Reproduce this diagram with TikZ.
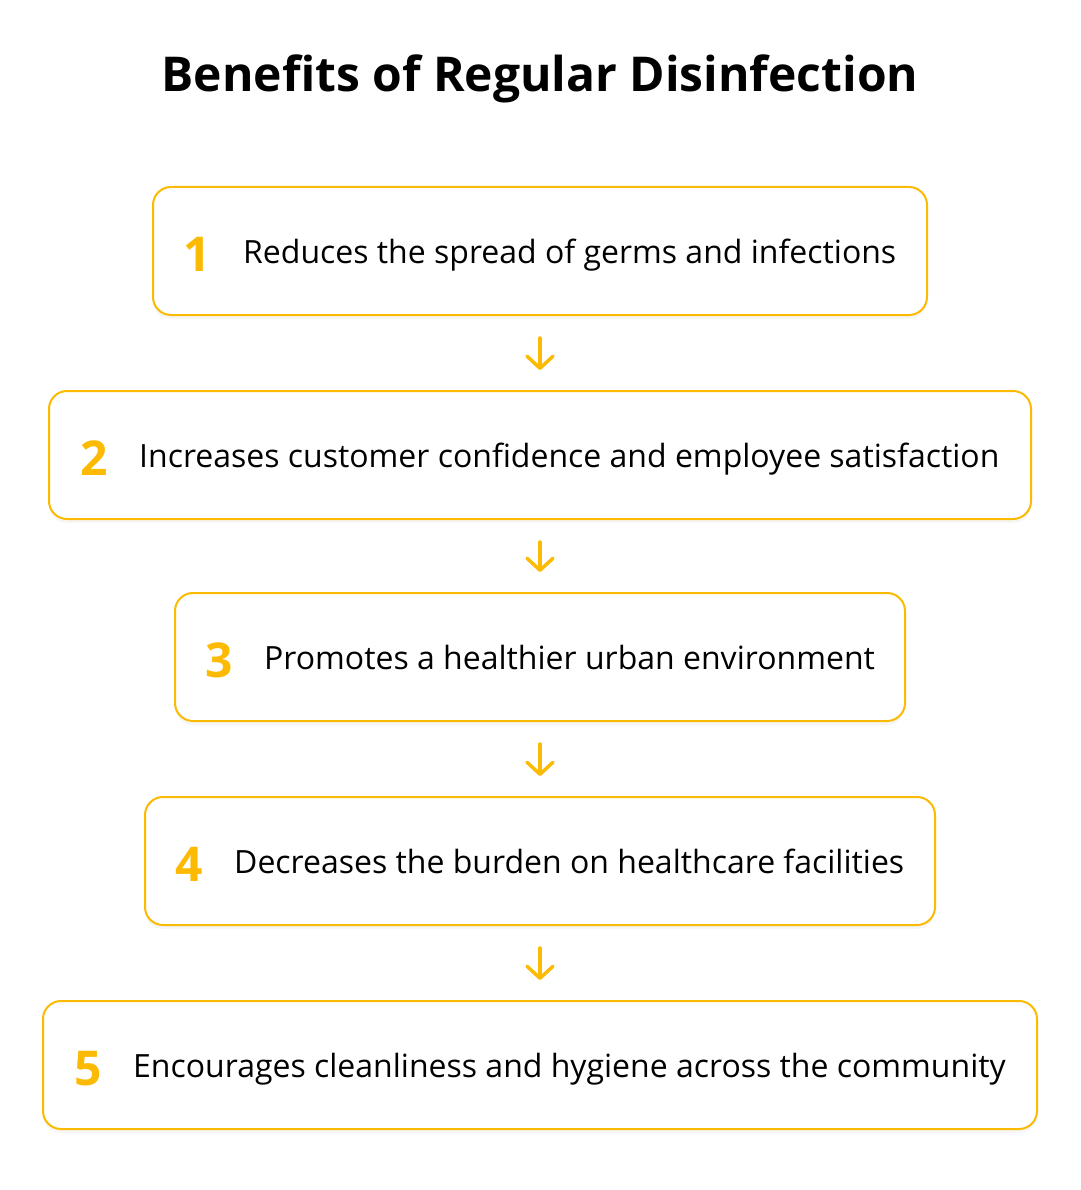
\documentclass[tikz,border=0pt]{standalone}
\usepackage{fontspec}
\setmainfont{Open Sans}
\usetikzlibrary{arrows.meta,shadows}
\definecolor{gold}{HTML}{FCBA03}
\tikzset{
  x=1pt,y=1pt,
  stepbox/.style={draw=gold, line width=2pt, rounded corners=18pt, fill=white,
    drop shadow={opacity=0.07, shadow xshift=0pt, shadow yshift=-4pt}},
  numlabel/.style={text=gold, font=\fontsize{48}{56}\selectfont\bfseries, anchor=base, inner sep=0pt},
  textlabel/.style={text=black, font=\fontsize{32}{38}\selectfont, anchor=base west, inner sep=0pt},
  flow/.style={draw=gold, line width=3.5pt, line cap=round,
    -{Straight Barb[length=12pt,width=26pt,line cap=round,line join=round]},
    shorten <=23pt, shorten >=21pt},
}
\begin{document}
\begin{tikzpicture}
\useasboundingbox (0,0) rectangle (1080,-1190);
\node[font=\fontsize{48}{56}\selectfont\bfseries, anchor=base, inner sep=0pt] (title) at (540,-92) {Benefits of Regular Disinfection};

% boxes: left, right, top, bottom
\path[stepbox] (153,-187) rectangle (927,-315);
\coordinate (b1n) at (540,-187); \coordinate (b1s) at (540,-315);
\path[stepbox] (49,-391) rectangle (1031,-519);
\coordinate (b2n) at (540,-391); \coordinate (b2s) at (540,-519);
\path[stepbox] (175,-593) rectangle (905,-721);
\coordinate (b3n) at (540,-593); \coordinate (b3s) at (540,-721);
\path[stepbox] (145,-797) rectangle (935,-925);
\coordinate (b4n) at (540,-797); \coordinate (b4s) at (540,-925);
\path[stepbox] (43,-1001) rectangle (1037,-1129);
\coordinate (b5n) at (540,-1001); \coordinate (b5s) at (540,-1129);

\node[numlabel] (n1) at (197,-271) {1};
\node[textlabel] (t1) at (243,-263) {Reduces the spread of germs and infections};
\node[numlabel] (n2) at (94,-475) {2};
\node[textlabel] (t2) at (139,-467) {Increases customer confidence and employee satisfaction};
\node[numlabel] (n3) at (219,-677) {3};
\node[textlabel] (t3) at (264,-669) {Promotes a healthier urban environment};
\node[numlabel] (n4) at (189,-881) {4};
\node[textlabel] (t4) at (234,-873) {Decreases the burden on healthcare facilities};
\node[numlabel] (n5) at (88,-1085) {5};
\node[textlabel] (t5) at (133,-1077) {Encourages cleanliness and hygiene across the community};

\draw[flow] (b1s) -- (b2n);
\draw[flow] (b2s) -- (b3n);
\draw[flow] (b3s) -- (b4n);
\draw[flow] (b4s) -- (b5n);
\end{tikzpicture}
\end{document}
